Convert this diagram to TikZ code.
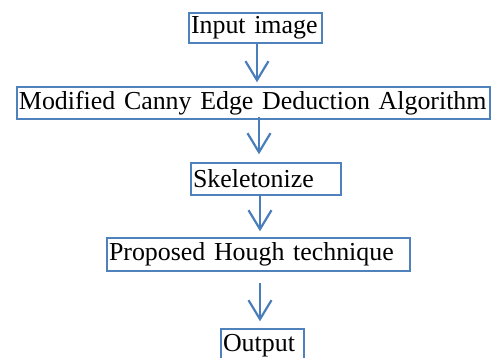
\documentclass[tikz,border=0pt]{standalone}
\usepackage{fontspec}
\setmainfont{Liberation Serif}
\usetikzlibrary{positioning,arrows.meta}
\definecolor{boxblue}{RGB}{79,129,189}
\definecolor{arrblue}{RGB}{74,126,187}

\begin{document}
\begin{tikzpicture}[x=1pt, y=-1pt,
  box/.style={draw=boxblue, line width=1.4pt, align=left, inner xsep=2pt,
              inner ysep=0pt, minimum height=32pt,
              font=\fontsize{25.9}{30}\selectfont},
  arr/.style={draw=arrblue, line width=2.2pt,
              -{Straight Barb[length=19pt, width=23pt, line width=2.2pt]}},
  ]
  \useasboundingbox (0,0) rectangle (491,358);

  \node[box, minimum height=30pt, text width=129pt] (in) at (255.5,28) {\mbox{Input image}};
  \node[box, text width=469pt] (canny) at (253.5,103) {\mbox{Modified Canny Edge Deduction Algorithm}};
  \node[box, text width=146pt] (skel) at (266,179) {\mbox{Skeletonize}};
  \node[box, minimum height=33pt, text width=299pt] (hough) at (258.5,254.5) {\mbox{Proposed Hough technique}};
  \node[box, minimum height=33pt, text width=79pt] (out) at (262.5,345.5) {\mbox{Output}};

  \draw[arr] ([xshift=1.5pt]in.south) -- ([xshift=3.5pt, yshift=4pt]canny.north);
  \draw[arr] ([xshift=5.5pt, yshift=3pt]canny.south) -- ([xshift=-7pt, yshift=8pt]skel.north);
  \draw[arr] ([xshift=-6pt, yshift=2pt]skel.south) -- ([xshift=1.5pt, yshift=6pt]hough.north);
  \draw[arr] ([xshift=1.5pt, yshift=-11pt]hough.south) -- ([xshift=-2.5pt, yshift=7pt]out.north);
\end{tikzpicture}
\end{document}
